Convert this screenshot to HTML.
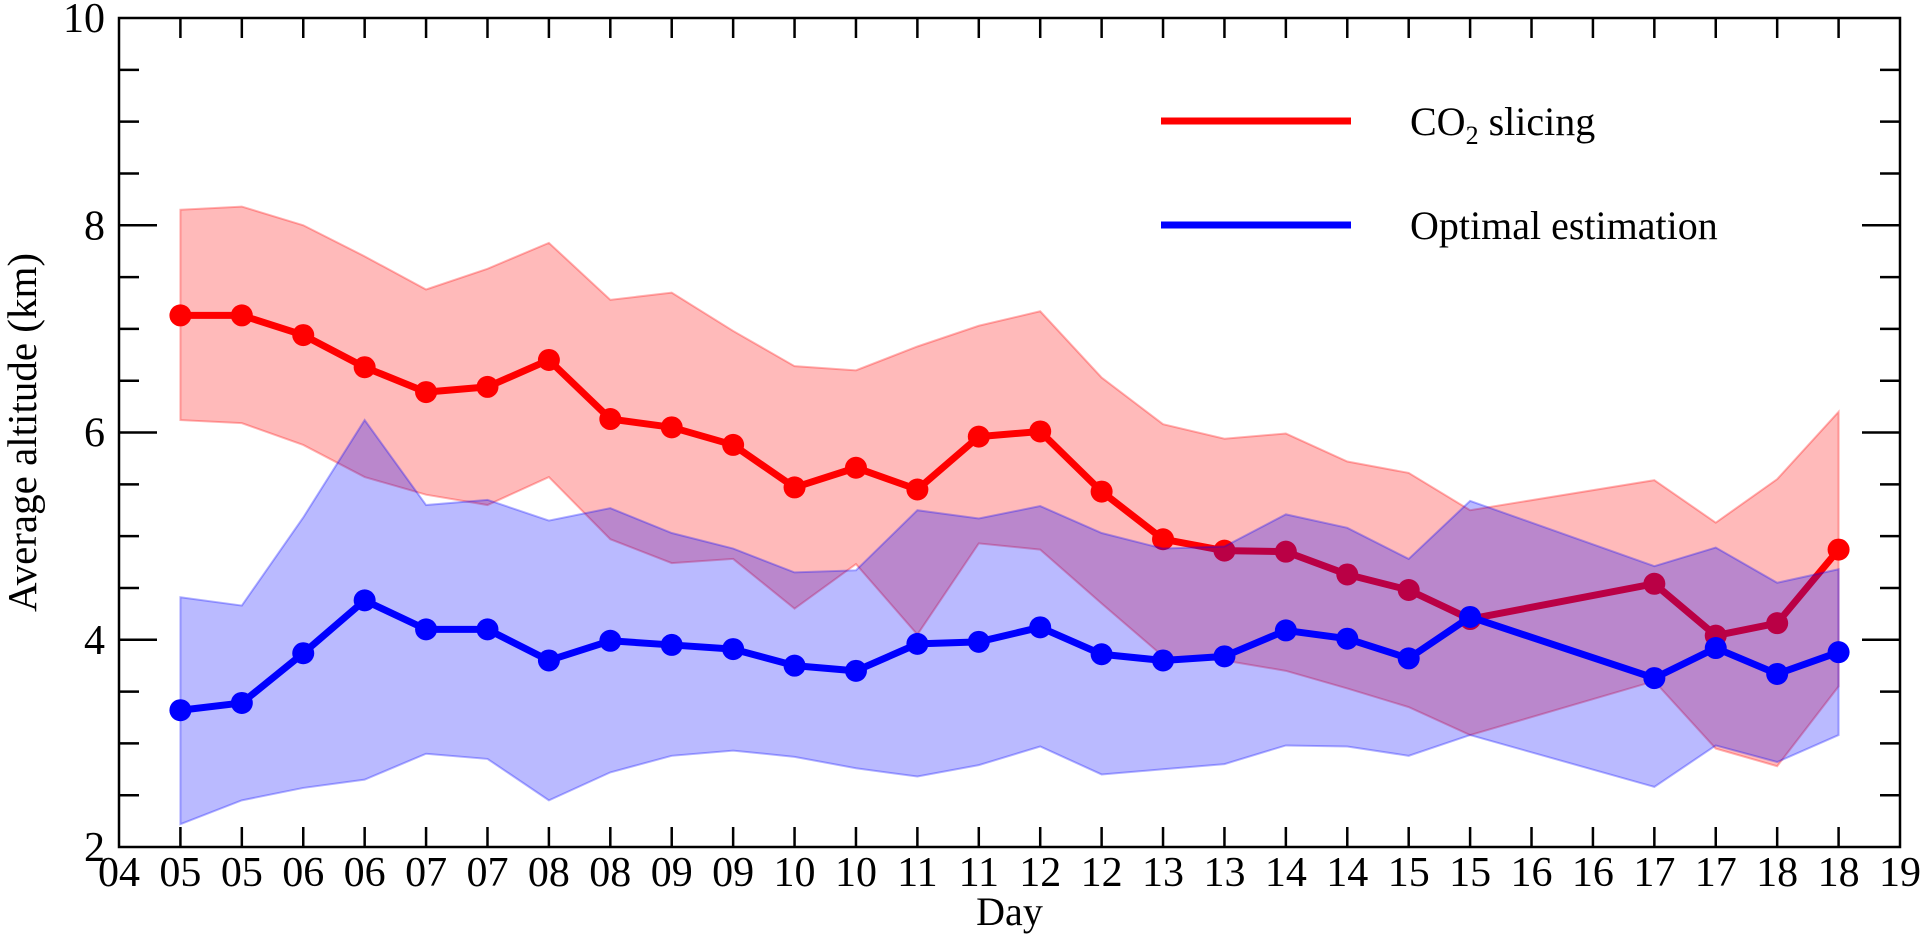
<!DOCTYPE html>
<html><head><meta charset="utf-8"><style>
html,body{margin:0;padding:0;background:#fff;}
svg{display:block;font-family:"Liberation Serif","DejaVu Serif",serif;}
</style></head><body>
<svg id="chart" width="1928" height="936" viewBox="0 0 1928 936" xmlns="http://www.w3.org/2000/svg">
</svg>
<script>
const xTickLabels=["04","05","05","06","06","07","07","08","08","09","09","10","10","11","11","12","12","13","13","14","14","15","15","16","16","17","17","18","18","19"];
const xIndex=[1,2,3,4,5,6,7,8,9,10,11,12,13,14,15,16,17,18,19,20,21,22,25,26,27,28];
const redMean=[7.13,7.13,6.94,6.63,6.39,6.44,6.70,6.13,6.05,5.88,5.47,5.66,5.45,5.96,6.01,5.43,4.97,4.86,4.85,4.63,4.48,4.20,4.54,4.04,4.16,4.87];
const redUpper=[8.15,8.18,8.0,7.7,7.38,7.58,7.83,7.28,7.35,6.98,6.64,6.60,6.83,7.03,7.17,6.53,6.08,5.94,5.99,5.72,5.61,5.25,5.54,5.13,5.55,6.20];
const redLower=[6.12,6.09,5.88,5.57,5.40,5.30,5.57,4.97,4.74,4.78,4.30,4.73,4.05,4.93,4.87,4.35,3.84,3.80,3.70,3.53,3.35,3.08,3.60,2.95,2.78,3.55];
const blueMean=[3.32,3.39,3.87,4.38,4.10,4.10,3.80,3.99,3.95,3.91,3.75,3.70,3.96,3.98,4.12,3.86,3.80,3.84,4.09,4.01,3.82,4.22,3.63,3.92,3.67,3.88];
const blueUpper=[4.41,4.33,5.18,6.12,5.30,5.35,5.15,5.27,5.03,4.88,4.65,4.67,5.25,5.17,5.29,5.03,4.88,4.90,5.21,5.08,4.78,5.34,4.71,4.89,4.55,4.68];
const blueLower=[2.22,2.45,2.57,2.65,2.90,2.85,2.45,2.72,2.88,2.93,2.87,2.76,2.68,2.79,2.97,2.70,2.75,2.80,2.98,2.97,2.88,3.08,2.58,2.98,2.82,3.08];
const yTickValues=[2,4,6,8,10];

const L=119,R=1900,T=18,B=847;
const x=i=>L+(R-L)*i/29;
const y=v=>B-(B-T)*(v-2)/8;
const NS="http://www.w3.org/2000/svg";
const svg=document.getElementById('chart');
function mk(tag,attrs,parent){const e=document.createElementNS(NS,tag);for(const k in attrs)e.setAttribute(k,attrs[k]);(parent||svg).appendChild(e);return e;}

function band(up,lo,fill,name){
  let pts=xIndex.map((xi,k)=>x(xi)+','+y(up[k]));
  for(let k=xIndex.length-1;k>=0;k--)pts.push(x(xIndex[k])+','+y(lo[k]));
  const p=mk('polygon',{points:pts.join(' '),fill:fill,'fill-opacity':0.27,stroke:fill,'stroke-opacity':0.3,'stroke-width':2});
  
  
}
function series(vals,color,name){
  const g=mk('g',{});
  
  
  mk('polyline',{points:xIndex.map((xi,k)=>x(xi)+','+y(vals[k])).join(' '),fill:'none',stroke:color,'stroke-width':7,'stroke-linejoin':'round'},g);
  xIndex.forEach((xi,k)=>{
    const c=mk('circle',{cx:x(xi),cy:y(vals[k]),r:11,fill:color},g);
    
    
  });
}
band(redUpper,redLower,'#ff0000','co2-slicing-band');
series(redMean,'#ff0000','co2-slicing-line');
band(blueUpper,blueLower,'#0000ff','optimal-estimation-band');
series(blueMean,'#0000ff','optimal-estimation-line');

const ax=mk('g',{stroke:'#000','stroke-width':2.5,fill:'none'});


mk('rect',{x:L,y:T,width:R-L,height:B-T},ax);
xTickLabels.forEach((lab,i)=>{
  if(i>0&&i<29){
    mk('line',{x1:x(i),x2:x(i),y1:B,y2:B-20},ax);
    mk('line',{x1:x(i),x2:x(i),y1:T,y2:T+20},ax);
  }
  const t=mk('text',{x:x(i),y:B+39,'text-anchor':'middle','font-size':42,fill:'#000'});
  t.textContent=lab;
  
  
});
for(let v=2.5;v<10;v+=0.5){
  const major=Math.abs(v%2)<1e-6;
  const len=major?38:20;
  mk('line',{x1:L,x2:L+len,y1:y(v),y2:y(v)},ax);
  mk('line',{x1:R,x2:R-len,y1:y(v),y2:y(v)},ax);
}
yTickValues.forEach(v=>{
  const t=mk('text',{x:L-14,y:y(v)+14,'text-anchor':'end','font-size':42,fill:'#000'});
  t.textContent=v;
  
  
});
const xt=mk('text',{x:(L+R)/2,y:925,'text-anchor':'middle','font-size':40,fill:'#000'});
xt.textContent='Day';


const yt=mk('text',{x:0,y:0,'text-anchor':'middle','font-size':41,fill:'#000',transform:'translate(36,'+((T+B)/2)+') rotate(-90)'});
yt.textContent='Average altitude (km)';



const lg=mk('g',{});


const e1=mk('g',{},lg);


mk('line',{x1:1161,x2:1351,y1:121,y2:121,stroke:'#ff0000','stroke-width':7},e1);
const t1=mk('text',{x:1410,y:135,'font-size':40,fill:'#000'},e1);
t1.innerHTML='CO<tspan font-size="26" dy="9">2</tspan><tspan dy="-9"> slicing</tspan>';
const e2=mk('g',{},lg);


mk('line',{x1:1161,x2:1351,y1:225,y2:225,stroke:'#0000ff','stroke-width':7},e2);
const t2=mk('text',{x:1410,y:239,'font-size':40,fill:'#000'},e2);
t2.textContent='Optimal estimation';
</script>
</body></html>
